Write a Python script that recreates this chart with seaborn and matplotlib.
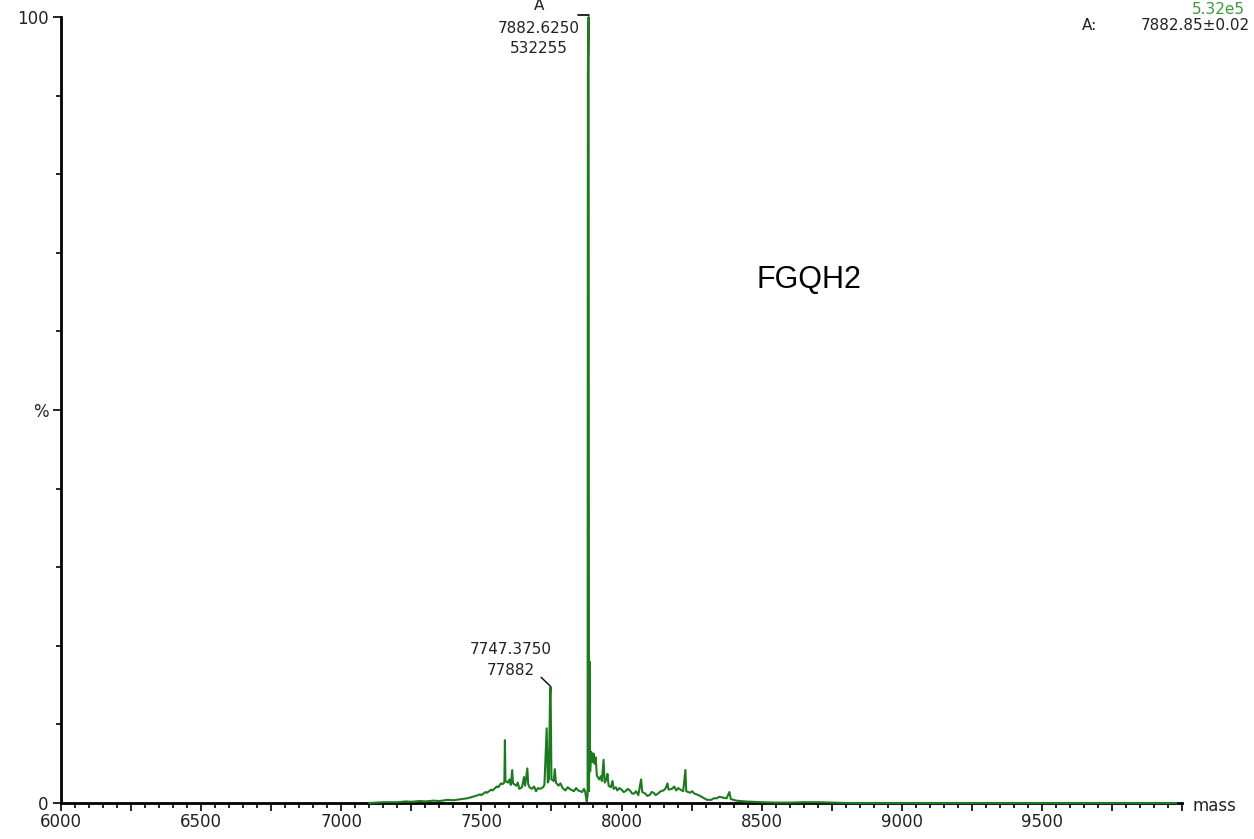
import matplotlib
matplotlib.use("Agg")
import matplotlib.pyplot as plt
import matplotlib.ticker as mticker
import seaborn as sns
import pandas as pd

# ---- data ----
mass = [7100, 7150, 7200, 7230, 7250, 7280, 7300, 7330, 7350, 7380, 7400, 7430, 7450,
        7470, 7480, 7495, 7500, 7515, 7520, 7535, 7540, 7555, 7560, 7570, 7575, 7582,
        7584, 7586, 7595, 7600, 7605, 7610, 7613, 7625, 7630, 7635, 7645, 7652, 7656,
        7664, 7667, 7672, 7680, 7688, 7695, 7702, 7710, 7720, 7725, 7733, 7737, 7741,
        7745, 7747, 7750, 7758, 7762, 7766, 7775, 7782, 7790, 7800, 7808, 7815, 7830,
        7838, 7845, 7860, 7866, 7870, 7876, 7879, 7880, 7882.6, 7884, 7886, 7888, 7892,
        7896, 7900, 7904, 7908, 7912, 7920, 7926, 7930, 7936, 7940, 7946, 7950, 7954,
        7962, 7968, 7972, 7980, 7985, 7993, 8000, 8008, 8015, 8022, 8030, 8038, 8045,
        8052, 8060, 8070, 8074, 8085, 8092, 8100, 8108, 8115, 8122, 8130, 8140, 8150,
        8158, 8164, 8168, 8180, 8188, 8195, 8202, 8210, 8220, 8228, 8231, 8245, 8252,
        8260, 8275, 8290, 8305, 8320, 8330, 8340, 8350, 8360, 8375, 8385, 8390, 8410,
        8440, 8470, 8500, 8550, 8600, 8650, 8700, 8800, 9000, 9500, 9980]
intensity = [0.0, 0.1, 0.1, 0.2, 0.15, 0.25, 0.2, 0.3, 0.25, 0.4, 0.35, 0.5, 0.6,
             0.8, 0.9, 1.1, 1.0, 1.4, 1.3, 1.7, 1.6, 2.1, 2.0, 2.5, 2.4, 2.6,
             8.0, 2.8, 2.6, 3.0, 2.3, 4.2, 2.5, 2.2, 2.6, 1.8, 2.0, 3.3, 2.2,
             4.4, 2.4, 2.0, 1.8, 2.1, 1.5, 1.9, 1.8, 2.0, 2.3, 9.5, 2.6, 3.0,
             13.8, 14.8, 3.0, 2.8, 4.3, 2.6, 2.2, 2.5, 1.9, 1.6, 2.0, 1.8, 1.5,
             1.9, 1.6, 1.4, 1.8, 1.5, 0.2, 1.0, 93.0, 100.0, 1.5, 18.0, 4.0, 6.5,
             5.2, 6.3, 5.0, 5.8, 3.5, 3.0, 3.4, 2.8, 5.5, 2.6, 3.0, 3.7, 2.2,
             2.0, 2.8, 1.8, 2.0, 1.6, 1.9, 1.7, 1.4, 1.5, 1.8, 1.6, 1.2, 1.2,
             1.5, 1.0, 3.0, 1.4, 1.2, 0.9, 1.0, 1.4, 1.3, 1.0, 1.2, 1.5, 1.6,
             1.9, 2.5, 1.7, 1.8, 2.1, 1.6, 1.9, 1.7, 1.5, 4.2, 1.5, 1.3, 1.5,
             1.2, 1.0, 0.7, 0.4, 0.4, 0.6, 0.6, 0.8, 0.7, 0.6, 1.4, 0.5, 0.3,
             0.2, 0.15, 0.1, 0.05, 0.05, 0.1, 0.1, 0.0, 0.0, 0.0, 0.0]

x_major = [6000, 6500, 7000, 7500, 8000, 8500, 9000, 9500]
y_labels = {0: "0", 50: "%", 100: "100"}

base_peak = ("A", "7882.6250", "532255")
second_peak = ("7747.3750", "77882")
side_info = ("5.32e5", "A:", "7882.85\u00b10.02")
sample_name = "FGQH2"

# ---- figure ----
W, H = 1254, 839
sns.set_style("white")
plt.rcParams["font.family"] = ["DejaVu Sans"]

fig = plt.figure(figsize=(W / 100, H / 100), dpi=100)
L, R, B, T = 61, 1182, 803, 17
ax = fig.add_axes([L / W, 1 - B / H, (R - L) / W, (B - T) / H])

df = pd.DataFrame({"mass": mass, "intensity": intensity})
green = "#1e7a1e"
sns.lineplot(data=df, x="mass", y="intensity", estimator=None, sort=False,
             color=green, linewidth=1.5, ax=ax, clip_on=False, zorder=5)

ax.set_xlim(6000, 10000)
ax.set_ylim(0, 100)
ax.set_xlabel("")
ax.set_ylabel("")

for s in ["top", "right"]:
    ax.spines[s].set_visible(False)
for s in ["left", "bottom"]:
    ax.spines[s].set_color("black")
    ax.spines[s].set_linewidth(2.0)

ax.xaxis.set_major_locator(mticker.MultipleLocator(250))
ax.xaxis.set_minor_locator(mticker.MultipleLocator(50))
ax.xaxis.set_major_formatter(mticker.FuncFormatter(
    lambda v, p: f"{int(v)}" if int(round(v)) in x_major else ""))
ax.yaxis.set_major_locator(mticker.FixedLocator(list(y_labels.keys())))
ax.yaxis.set_major_formatter(mticker.FuncFormatter(
    lambda v, p: y_labels.get(int(round(v)), "")))
ax.yaxis.set_minor_locator(mticker.MultipleLocator(10))

ax.tick_params(axis="both", which="major", direction="out", length=6, width=1.2,
               colors="black", labelsize=12, bottom=True, left=True)
ax.tick_params(axis="both", which="minor", direction="out", length=3.5, width=1.2,
               colors="black", bottom=True, left=True)
ax.tick_params(axis="x", which="major", pad=1, labelcolor="#222222")
ax.tick_params(axis="y", which="major", pad=3, labelcolor="#222222")
ax.set_xlim(6000, 10000)

# annotation on base peak
tkw = dict(fontsize=11, color="#222222", ha="center")
ax.text(7705, 101.4, base_peak[0], va="center", **tkw, clip_on=False)
ax.text(7705, 98.6, base_peak[1], va="center", **tkw, clip_on=False)
ax.text(7705, 96.0, base_peak[2], va="center", **tkw, clip_on=False)
ax.plot([7845, 7882.6], [100.2, 100.2], color="black", lw=1.2, clip_on=False)

# annotation on second peak
ax.text(7605, 19.5, second_peak[0], va="center", **tkw)
ax.text(7605, 16.9, second_peak[1], va="center", **tkw)
ax.plot([7713, 7745], [16.0, 14.9], color="black", lw=1.0)

# sample name
ax.text(8668, 66.6, sample_name, fontsize=22, color="black", ha="center",
        va="center", family=["Liberation Sans", "DejaVu Sans"])

# top-right info
fig.text(1245 / W, 1 - 9 / H, side_info[0], color="#3a9a3a", fontsize=11,
         ha="right", va="center")
fig.text(1082 / W, 1 - 25 / H, side_info[1], color="#222222", fontsize=11,
         ha="left", va="center")
fig.text(1250 / W, 1 - 25 / H, side_info[2], color="#222222", fontsize=11,
         ha="right", va="center")

# axis name
fig.text(1192 / W, 1 - 806 / H, "mass", color="#222222", fontsize=12,
         ha="left", va="center")

fig.savefig("out.png", dpi=100)
